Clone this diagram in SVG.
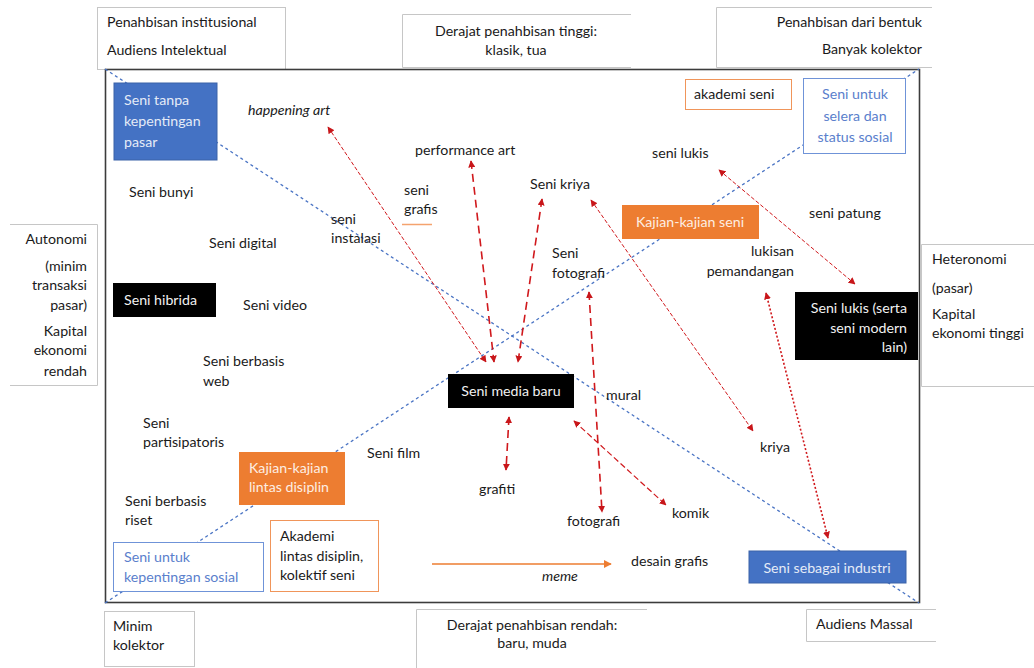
<svg xmlns="http://www.w3.org/2000/svg" width="1034" height="668" viewBox="0 0 1034 668">
<style>
text{font-family:Lato,"Open Sans","Liberation Sans",sans-serif;font-size:14.2px;fill:#1a1a1a}
.it{font-style:italic}
.w{fill:#f2f2f2}
.wb{fill:#e4ebf7}
.wo{fill:#fdeee3}
.bt{fill:#5a80cc}
.r{text-anchor:end}
.m{text-anchor:middle}
.gb{fill:none;stroke:#c6c6c6;stroke-width:1}
.diag{stroke:#4a74c4;stroke-width:1.3;stroke-dasharray:3,3;fill:none}
.thick{stroke:#d0181c;stroke-width:1.6;stroke-dasharray:8,5;fill:none}
.thin{stroke:#d0181c;stroke-width:1;stroke-dasharray:4,2;fill:none}
.med{stroke:#d0181c;stroke-width:1.2;stroke-dasharray:6,3;fill:none}
.dot{stroke:#d0181c;stroke-width:1.6;stroke-dasharray:2,2;fill:none}
</style>
<defs>
<marker id="ah" viewBox="0 0 10 10" refX="9" refY="5" markerWidth="7" markerHeight="7" markerUnits="userSpaceOnUse" orient="auto-start-reverse">
<path d="M0,0 L10,5 L0,10 z" fill="#c8161a"/>
</marker>
<marker id="oa" viewBox="0 0 10 10" refX="9" refY="5" markerWidth="8" markerHeight="8" markerUnits="userSpaceOnUse" orient="auto">
<path d="M0,0 L10,5 L0,10 z" fill="#ed7d31"/>
</marker>
</defs>
<rect width="1034" height="668" fill="#ffffff"/>

<!-- outer label boxes -->
<g id="outer-top-left"><rect class="gb" x="97.5" y="7.5" width="188" height="62"/><text x="107" y="27">Penahbisan institusional</text><text x="107" y="55">Audiens Intelektual</text></g>
<g id="outer-top-center"><path class="gb" d="M631,14.5 H402.5 V67.5 H631"/><text class="m" x="516" y="36">Derajat penahbisan tinggi:</text><text class="m" x="516" y="55">klasik, tua</text></g>
<g id="outer-top-right"><path class="gb" d="M932,7.5 H716.5 V67.5 H932"/><text class="r" x="922" y="27">Penahbisan dari bentuk</text><text class="r" x="922" y="54">Banyak kolektor</text></g>
<g id="outer-left"><path class="gb" d="M10,224.5 H97.5 V385.5 H10"/><text class="r" x="87" y="244">Autonomi</text><text class="r" x="87" y="271">(minim</text><text class="r" x="87" y="290">transaksi</text><text class="r" x="87" y="310">pasar)</text><text class="r" x="87" y="336">Kapital</text><text class="r" x="87" y="355">ekonomi</text><text class="r" x="87" y="376">rendah</text></g>
<g id="outer-right"><path class="gb" d="M1034,244.5 H921.5 V386.5 H1034"/><text x="932" y="264">Heteronomi</text><text x="932" y="293">(pasar)</text><text x="932" y="319">Kapital</text><text x="932" y="338">ekonomi tinggi</text></g>
<g id="outer-bottom-left"><rect class="gb" x="104.5" y="611.5" width="90" height="55"/><text x="113" y="631">Minim</text><text x="113" y="650">kolektor</text></g>
<g id="outer-bottom-center"><path class="gb" d="M647,609.5 H416.5 V668"/><text class="m" x="532" y="630">Derajat penahbisan rendah:</text><text class="m" x="532" y="648">baru, muda</text></g>
<g id="outer-bottom-right"><path class="gb" d="M936,609.5 H806.5 V641.5 H936"/><text x="816" y="629">Audiens Massal</text></g>

<!-- main frame -->
<rect id="frame" x="105.5" y="69.5" width="814" height="533" fill="none" stroke="#3c3c3c" stroke-width="1.6"/>

<!-- connectors -->
<g id="connectors">
<line class="diag" x1="105" y1="69" x2="919" y2="603"/>
<line class="diag" x1="105" y1="603" x2="919" y2="69"/>
<line class="thin" x1="328" y1="127" x2="486" y2="362" marker-start="url(#ah)" marker-end="url(#ah)"/>
<line class="thick" x1="471" y1="161" x2="494" y2="362" marker-start="url(#ah)" marker-end="url(#ah)"/>
<line class="thick" x1="542" y1="199" x2="518" y2="362" marker-start="url(#ah)" marker-end="url(#ah)"/>
<line class="thin" x1="591" y1="200" x2="753" y2="431" marker-start="url(#ah)" marker-end="url(#ah)"/>
<line class="thin" x1="719" y1="170" x2="855" y2="284" marker-start="url(#ah)" marker-end="url(#ah)"/>
<line class="dot" x1="766" y1="293" x2="828" y2="538" marker-start="url(#ah)" marker-end="url(#ah)"/>
<line class="thick" x1="589" y1="292" x2="602" y2="512" marker-start="url(#ah)" marker-end="url(#ah)"/>
<line class="thick" x1="509" y1="417" x2="506" y2="470" marker-start="url(#ah)" marker-end="url(#ah)"/>
<line class="med" x1="574" y1="421" x2="666" y2="505" marker-start="url(#ah)" marker-end="url(#ah)"/>
<line x1="432" y1="564" x2="611" y2="564" stroke="#ed7d31" stroke-width="1.5" marker-end="url(#oa)"/>
<line x1="402" y1="224.5" x2="432" y2="224.5" stroke="#f4a36e" stroke-width="1.5"/>
</g>

<!-- nodes -->
<g id="n-seni-tanpa"><rect x="114" y="83" width="103" height="77" fill="#4472c4" stroke="#3b62a8"/><text class="wb" x="124" y="105">Seni tanpa</text><text class="wb" x="124" y="126">kepentingan</text><text class="wb" x="124" y="147">pasar</text></g>
<g id="n-akademi-seni"><rect x="685.5" y="79.5" width="106" height="30" fill="#fff" stroke="#f0955a"/><text x="694" y="99">akademi seni</text></g>
<g id="n-selera"><rect x="803.5" y="78.5" width="102" height="75" fill="#fff" stroke="#6f93d8"/><text class="bt m" x="855" y="99">Seni untuk</text><text class="bt m" x="855" y="121">selera dan</text><text class="bt m" x="855" y="142">status sosial</text></g>
<g id="n-kajian-seni"><rect x="622" y="205" width="137" height="34" fill="#ed7d31"/><text class="wo m" x="690" y="227">Kajian-kajian seni</text></g>
<g id="n-lukis-modern"><rect x="795" y="292" width="123" height="68" fill="#000"/><text class="w r" x="907" y="313">Seni lukis (serta</text><text class="w r" x="907" y="333">seni modern</text><text class="w r" x="907" y="352">lain)</text></g>
<g id="n-hibrida"><rect x="113" y="283" width="103" height="34" fill="#000"/><text class="w" x="124" y="305">Seni hibrida</text></g>
<g id="n-media-baru"><rect x="448" y="374" width="126" height="34" fill="#000"/><text class="w m" x="511" y="396">Seni media baru</text></g>
<g id="n-kajian-lintas"><rect x="239" y="452" width="106" height="53" fill="#ed7d31"/><text class="wo" x="249" y="473">Kajian-kajian</text><text class="wo" x="249" y="492">lintas disiplin</text></g>
<g id="n-sosial"><rect x="113.5" y="542.5" width="150" height="49" fill="#fff" stroke="#6f93d8"/><text class="bt" x="124" y="562">Seni untuk</text><text class="bt" x="124" y="582">kepentingan sosial</text></g>
<g id="n-akademi-lintas"><rect x="270.5" y="520.5" width="108" height="71" fill="#fff" stroke="#f0955a"/><text x="280" y="541">Akademi</text><text x="280" y="561">lintas disiplin,</text><text x="280" y="580">kolektif seni</text></g>
<g id="n-industri"><rect x="749" y="551" width="157" height="32" fill="#4472c4" stroke="#3b62a8"/><text class="wb m" x="827" y="573">Seni sebagai industri</text></g>

<!-- free labels -->
<g id="labels">
<text class="it" x="248" y="115">happening art</text>
<text x="129" y="197">Seni bunyi</text>
<text x="331" y="224">seni</text><text x="331" y="243">instalasi</text>
<text x="404" y="195">seni</text><text x="404" y="214">grafis</text>
<text x="415" y="155">performance art</text>
<text x="530" y="189">Seni kriya</text>
<text x="552" y="258">Seni</text><text x="552" y="278">fotografi</text>
<text x="652" y="158">seni lukis</text>
<text x="809" y="218">seni patung</text>
<text class="r" x="794" y="256">lukisan</text><text class="r" x="794" y="276">pemandangan</text>
<text x="209" y="248">Seni digital</text>
<text x="243" y="310">Seni video</text>
<text x="203" y="366">Seni berbasis</text><text x="203" y="386">web</text>
<text x="143" y="428">Seni</text><text x="143" y="447">partisipatoris</text>
<text x="606" y="400">mural</text>
<text x="367" y="458">Seni film</text>
<text x="125" y="506">Seni berbasis</text><text x="125" y="525">riset</text>
<text x="479" y="494">grafiti</text>
<text x="567" y="526">fotografi</text>
<text x="672" y="518">komik</text>
<text x="760" y="452">kriya</text>
<text x="631" y="566">desain grafis</text>
<text class="it" x="542" y="581">meme</text>
</g>
</svg>
